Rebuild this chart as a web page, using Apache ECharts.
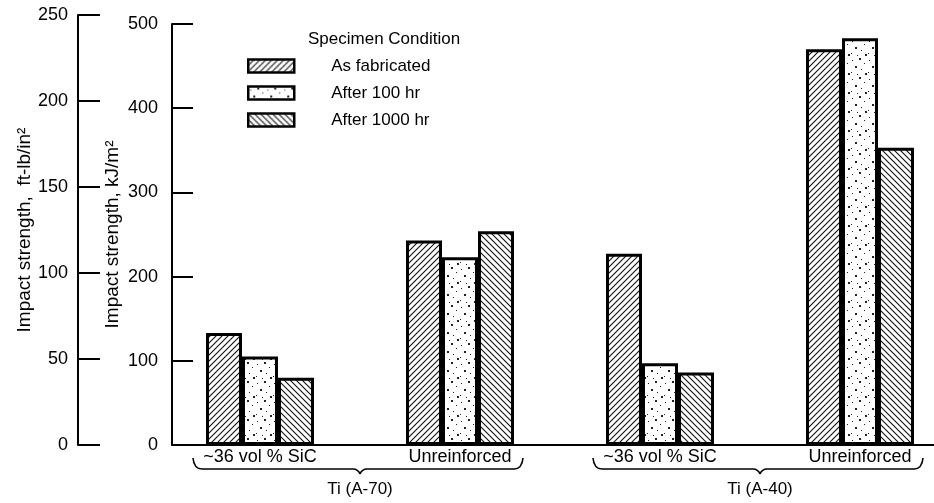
<!DOCTYPE html>
<html>
<head>
<meta charset="utf-8">
<script src="https://cdn.jsdelivr.net/npm/echarts@6/dist/echarts.min.js"></script>
<style>
  html, body { margin: 0; padding: 0; background: #fff; }
  #chart { width: 934px; height: 503px; }
</style>
</head>
<body>
<div id="chart"></div>
<script>
// values, kJ/m^2
const categories = ['~36 vol % SiC', 'Unreinforced', '~36 vol % SiC', 'Unreinforced']
const groups = ['Ti (A-70)', 'Ti (A-40)']
const groupSpans = [[0, 1], [2, 3]]
const conditions = ['As fabricated', 'After 100 hr', 'After 1000 hr']
const asFabricated = [133, 243, 227, 470]
const after100hr = [105, 223, 97, 483]
const after1000hr = [80, 254, 86, 353]

const TEXT_FONT = '"Liberation Sans", Arial, sans-serif'

// fill textures
function hatch(up) {
  const c = document.createElement('canvas')
  c.width = 6
  c.height = 6
  const ctx = c.getContext('2d')
  ctx.fillStyle = '#fff'
  ctx.fillRect(0, 0, 6, 6)
  ctx.strokeStyle = '#111'
  ctx.lineWidth = 1.1
  ctx.beginPath()
  if (up) {
    ctx.moveTo(-1, 7); ctx.lineTo(7, -1)
    ctx.moveTo(-1, 1); ctx.lineTo(1, -1)
    ctx.moveTo(5, 7); ctx.lineTo(7, 5)
  } else {
    ctx.moveTo(-1, -1); ctx.lineTo(7, 7)
    ctx.moveTo(5, -1); ctx.lineTo(7, 1)
    ctx.moveTo(-1, 5); ctx.lineTo(1, 7)
  }
  ctx.stroke()
  return c
}

function stipple() {
  const c = document.createElement('canvas')
  c.width = 17
  c.height = 19
  const ctx = c.getContext('2d')
  ctx.fillStyle = '#fff'
  ctx.fillRect(0, 0, 17, 19)
  ctx.fillStyle = '#222'
  const dots = [[2, 3, 1], [9, 1, 2], [14, 6, 1], [5, 9, 2], [11, 12, 1], [1, 15, 1], [15, 16, 2], [7, 17, 1]]
  dots.forEach(([x, y, s]) => ctx.fillRect(x, y, s, s))
  return c
}

const fills = [
  { image: hatch(true), repeat: 'repeat' },
  { image: stipple(), repeat: 'repeat' },
  { image: hatch(false), repeat: 'repeat' }
]
const seriesValues = [asFabricated, after100hr, after1000hr]

const chart = echarts.init(document.getElementById('chart'))

const option = {
  animation: false,
  backgroundColor: '#fff',
  textStyle: { fontFamily: TEXT_FONT, color: '#000' },
  title: {
    text: 'Specimen Condition',
    left: 308,
    top: 31,
    padding: 0,
    textStyle: { fontFamily: TEXT_FONT, fontSize: 17, fontWeight: 'normal', color: '#000' }
  },
  legend: {
    data: conditions,
    orient: 'vertical',
    left: 247,
    top: 56,
    padding: 0,
    icon: 'rect',
    itemWidth: 46,
    itemHeight: 13,
    itemGap: 7,
    selectedMode: false,
    itemStyle: { borderColor: '#000', borderWidth: 2.5 },
    textStyle: { fontFamily: TEXT_FONT, fontSize: 17, color: '#000', lineHeight: 20, padding: [0, 0, 0, 32] }
  },
  grid: [
    // bars
    { left: 160, right: -26, top: 24, bottom: 58, outerBoundsMode: 'none' },
    // kJ/m2 frame
    { left: 172, right: 0, top: 24, bottom: 58, outerBoundsMode: 'none' },
    // ft-lb/in2 scale
    { left: 78, width: 20, top: 15, bottom: 58, outerBoundsMode: 'none' }
  ],
  xAxis: [
    {
      gridIndex: 0,
      type: 'category',
      data: categories,
      axisLine: { show: false },
      axisTick: { show: false },
      axisLabel: { interval: 0, margin: 3, fontFamily: TEXT_FONT, fontSize: 18, color: '#000' }
    },
    {
      gridIndex: 1,
      type: 'value',
      min: 0,
      max: 1,
      axisLine: { show: true, lineStyle: { color: '#000', width: 2 } },
      axisTick: { show: false },
      axisLabel: { show: false },
      splitLine: { show: false }
    },
    { gridIndex: 2, type: 'value', show: false }
  ],
  yAxis: [
    { gridIndex: 0, type: 'value', min: 0, max: 500, show: false },
    {
      gridIndex: 1,
      type: 'value',
      min: 0,
      max: 500,
      interval: 100,
      name: 'Impact strength, kJ/m²',
      nameLocation: 'middle',
      nameGap: 50,
      nameMoveOverlap: false,
      nameTextStyle: { fontFamily: TEXT_FONT, fontSize: 19, color: '#000' },
      axisLine: { show: true, lineStyle: { color: '#000', width: 2 } },
      axisTick: { show: true, inside: true, length: 21, lineStyle: { color: '#000', width: 2 } },
      axisLabel: { margin: 14, fontFamily: TEXT_FONT, fontSize: 18, color: '#000' },
      splitLine: { show: false }
    },
    {
      gridIndex: 2,
      type: 'value',
      min: 0,
      max: 250,
      interval: 50,
      name: 'Impact strength,  ft-lb/in²',
      nameLocation: 'middle',
      nameGap: 44,
      nameMoveOverlap: false,
      nameTextStyle: { fontFamily: TEXT_FONT, fontSize: 19, color: '#000' },
      axisLine: { show: true, lineStyle: { color: '#000', width: 2 } },
      axisTick: { show: true, inside: true, length: 22, lineStyle: { color: '#000', width: 2 } },
      axisLabel: { margin: 10, fontFamily: TEXT_FONT, fontSize: 18, color: '#000' },
      splitLine: { show: false }
    }
  ],
  series: []
}

conditions.forEach((name, i) => {
  option.series.push({
    name: name,
    type: 'bar',
    xAxisIndex: 0,
    yAxisIndex: 0,
    barWidth: 36,
    barGap: '0%',
    itemStyle: { color: fills[i], borderColor: '#000', borderWidth: 3 },
    emphasis: { disabled: true },
    data: seriesValues[i]
  })
})

// group braces under the category labels
option.series.push({
  type: 'custom',
  xAxisIndex: 0,
  yAxisIndex: 0,
  silent: true,
  clip: false,
  data: groupSpans.map((s) => [s[0], s[1], 0]),
  encode: { x: [0, 1], y: 2 },
  renderItem: function (params, api) {
    const a = api.coord([api.value(0), 0])
    const b = api.coord([api.value(1), 0])
    const band = api.size([1, 0])[0]
    const x0 = a[0] - band * 0.335
    const x1 = b[0] + band * 0.315
    const mid = (a[0] + b[0]) / 2
    const y = a[1] + 24
    const ln = { stroke: '#000', lineWidth: 1.6, fill: null }
    return {
      type: 'group',
      children: [
        { type: 'bezierCurve', shape: { x1: x0, y1: y - 11, cpx1: x0 + 1, cpy1: y, x2: x0 + 9, y2: y }, style: ln },
        { type: 'line', shape: { x1: x0 + 9, y1: y, x2: mid - 7, y2: y }, style: ln },
        { type: 'bezierCurve', shape: { x1: mid - 7, y1: y, cpx1: mid - 2, cpy1: y, x2: mid, y2: y + 5 }, style: ln },
        { type: 'bezierCurve', shape: { x1: mid, y1: y + 5, cpx1: mid + 2, cpy1: y, x2: mid + 7, y2: y }, style: ln },
        { type: 'line', shape: { x1: mid + 7, y1: y, x2: x1 - 9, y2: y }, style: ln },
        { type: 'bezierCurve', shape: { x1: x1 - 9, y1: y, cpx1: x1 - 1, cpy1: y, x2: x1, y2: y - 11 }, style: ln },
        {
          type: 'text',
          x: mid,
          y: y + 12,
          style: {
            text: groups[params.dataIndex],
            fontFamily: TEXT_FONT,
            fontSize: 17,
            fill: '#000',
            textAlign: 'center',
            textVerticalAlign: 'top'
          }
        }
      ]
    }
  }
})

chart.setOption(option)
</script>
</body>
</html>
